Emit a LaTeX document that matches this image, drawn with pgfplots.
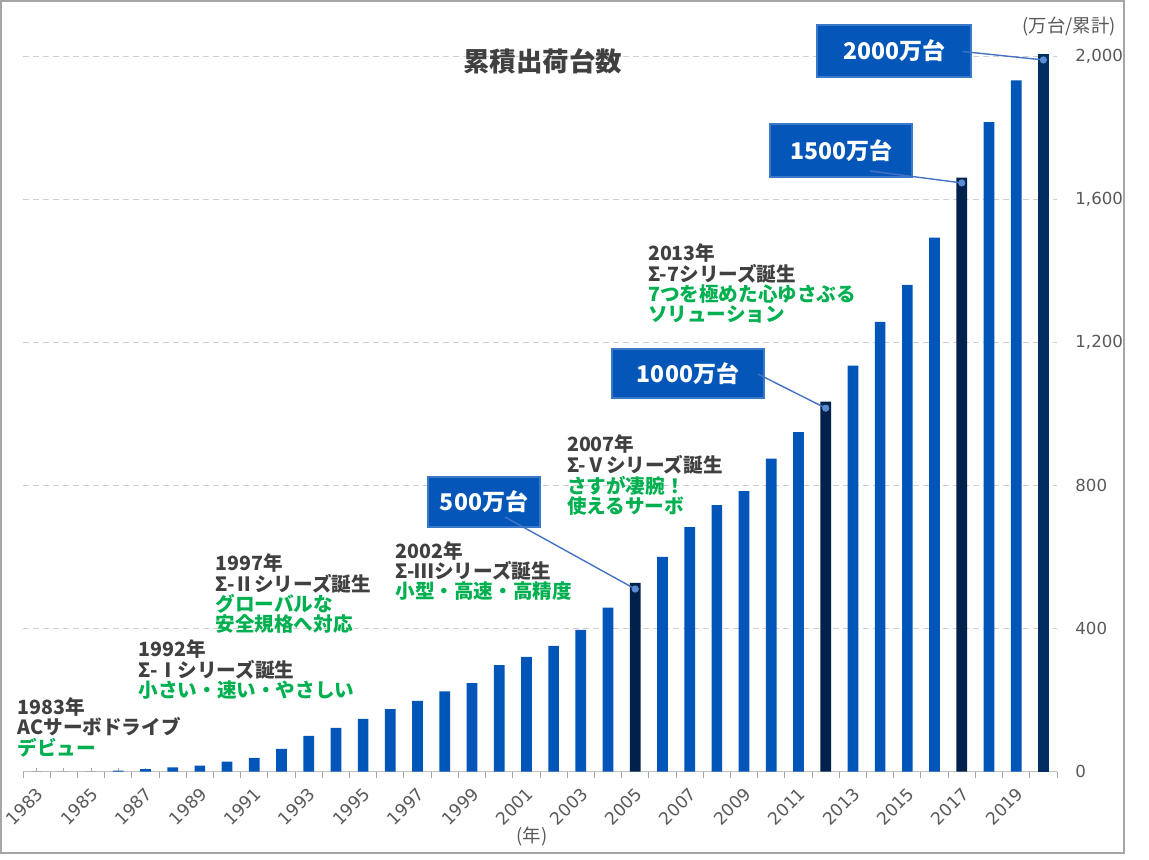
\documentclass[border=0pt]{standalone}
\usepackage{fontspec}
\usepackage{pgfplots}
\usepackage{pgfplotstable}
\pgfplotsset{compat=1.18}
\setmainfont{DejaVu Sans}
\newfontfamily\jp{Noto Sans CJK JP}
\definecolor{barblue}{HTML}{0055B8}
\definecolor{bardark}{HTML}{00214B}
\definecolor{bardarkb}{HTML}{002E60}
\definecolor{boxblue}{HTML}{0457B9}
\definecolor{boxedge}{HTML}{3C78C8}
\definecolor{leader}{HTML}{4472C4}
\definecolor{dotc}{HTML}{5B8BD0}
\definecolor{txtgray}{HTML}{404040}
\definecolor{txtgreen}{HTML}{00B050}
\definecolor{ticklab}{HTML}{595959}
\definecolor{gridc}{HTML}{D0D0D0}
\definecolor{axisc}{HTML}{BFBFBF}
\definecolor{tickc}{HTML}{A6A6A6}
\definecolor{framec}{HTML}{A6A6A6}

% index 0 = 1983 ... 37 = 2020
\pgfplotstableread{
x y
0 0
1 0
2 0
3 3
4 7
5 12
6 17
7 28
8 39
9 64
10 100
11 123
12 148
13 175
14 198
15 225
16 248
17 298
18 321
19 352
20 397
21 459
23 601
24 684
25 746
26 785
27 876
28 950
30 1136
31 1258
32 1362
33 1494
35 1817
36 1934
}\bluedata
\pgfplotstableread{
x y
22 528
29 1035
34 1662
}\darkdata
\pgfplotstableread{
x y
37 2007
}\lastdata
\pgfplotstableread{
x y
22 511
29 1017
34 1647
37 1991
}\dotdata

\begin{document}
\begin{tikzpicture}
\useasboundingbox (0,0) rectangle (574.5pt,-429.5pt);
\draw[framec, line width=0.6pt] (0.5pt,-0.5pt) rectangle (562pt,-426.5pt);
\begin{axis}[
  at={(11.5pt,-385.85pt)}, anchor=south west, scale only axis,
  width=517pt, height=357.5pt,
  xmin=-0.5, xmax=37.5, ymin=0, ymax=2000,
  clip=false,
  axis x line*=bottom, axis y line*=right,
  x axis line style={axisc, -, line width=0.6pt},
  y axis line style={draw=none},
  /pgf/number format/assume math mode=true,
  xtick={0,2,...,36},
  xticklabels={1983,1985,1987,1989,1991,1993,1995,1997,1999,2001,2003,2005,2007,2009,2011,2013,2015,2017,2019},
  minor x tick num=1,
  xtick align=inside,
  major tick length=2pt, minor tick length=2pt,
  xtick style={tickc, line width=0.5pt},
  extra x ticks={-0.5,0.5,...,37.5},
  extra x tick labels={},
  extra x tick style={xtick align=outside, major tick length=3pt, tickc},
  xticklabel style={xshift=-0.5pt, yshift=-7pt, rotate=45, anchor=north east, inner sep=0pt,
     font=\fontsize{8.6}{9}\selectfont, color=ticklab},
  ytick={0,400,...,2000},
  ytick style={draw=none},
  yticklabel style={anchor=west, inner sep=0pt, xshift=9pt,
     font=\fontsize{8.3}{9}\selectfont, color=ticklab,
     /pgf/number format/1000 sep={,}},
  ymajorgrids,
  grid style={gridc, dash pattern=on 3pt off 2pt, line width=0.5pt},
]
\addplot[ybar, bar width=5.35pt, bar shift=0pt, fill=barblue, draw=none] table[x=x,y=y] {\bluedata};
\addplot[ybar, bar width=5.35pt, bar shift=0pt, fill=bardark, draw=none] table[x=x,y=y] {\darkdata};
\addplot[ybar, bar width=5.35pt, bar shift=0pt, fill=bardarkb, draw=none] table[x=x,y=y] {\lastdata};
\begin{scope}[every node/.style={draw=boxedge, fill=boxblue, line width=0.75pt, text=white,
   inner sep=0pt, font=\jp\bfseries\fontsize{11.5}{12}\selectfont}]
\node[minimum width=56pt, minimum height=25pt] at (axis cs:16.442,754.4) {500万台};
\node[minimum width=76pt, minimum height=24.5pt] at (axis cs:23.939,1113.8) {1000万台};
\node[minimum width=71pt, minimum height=26.5pt] at (axis cs:29.562,1737.6) {1500万台};
\node[minimum width=77pt, minimum height=26pt] at (axis cs:31.510,2015.9) {2000万台};
\end{scope}
\draw[leader, line width=0.7pt] (axis cs:17.214,712.4) -- (axis cs:22,511);
\draw[leader, line width=0.7pt] (axis cs:26.512,1112.4) -- (axis cs:29,1017);
\draw[leader, line width=0.7pt] (axis cs:30.628,1680.3) -- (axis cs:34,1647);
\draw[leader, line width=0.7pt] (axis cs:34.045,2014.5) -- (axis cs:37,1991);
\addplot[only marks, mark=*, mark size=1.6pt, mark options={fill=dotc, draw=dotc}] table[x=x,y=y] {\dotdata};
\end{axis}
\begin{scope}[x=0.5pt, y=-0.5pt,
  g/.style={anchor=base west, inner sep=0pt, color=txtgray, font=\jp\bfseries\fontsize{9.8}{11}\selectfont},
  e/.style={anchor=base west, inner sep=0pt, color=txtgreen, font=\jp\bfseries\fontsize{9.8}{11}\selectfont}]
\node[color=txtgray, font=\jp\bfseries\fontsize{13.25}{14}\selectfont] at (542.5,61.5) {累積出荷台数};
\node[color=ticklab, font=\jp\fontsize{9.2}{10}\selectfont] at (1069,27) {(万台/累計)};
\node[color=ticklab, font=\jp\fontsize{9.2}{10}\selectfont] at (532,837) {(年)};
% 1983
\node[g] at (17.3,714.3) {1983年};
\node[g] at (17.3,734.6) {ACサーボドライブ};
\node[e] at (17.3,755) {デビュー};
% 1992
\node[g] at (138.3,656.5) {1992年};
\node[g] at (138.3,677) {Σ-Ⅰシリーズ誕生};
\node[e] at (138.3,697) {小さい・速い・やさしい};
% 1997
\node[g] at (215,570.5) {1997年};
\node[g] at (215,591) {Σ-Ⅱシリーズ誕生};
\node[e] at (215,611) {グローバルな};
\node[e] at (215,631.5) {安全規格へ対応};
% 2002
\node[g] at (395,558) {2002年};
\node[g] at (395,578) {Σ-Ⅲシリーズ誕生};
\node[e] at (395,598) {小型・高速・高精度};
% 2007
\node[g] at (566.7,451.5) {2007年};
\node[g] at (566.7,472.5) {Σ-Ⅴシリーズ誕生};
\node[e] at (566.7,493) {さすが凄腕！};
\node[e] at (566.7,513.5) {使えるサーボ};
% 2013
\node[g] at (647.7,260.5) {2013年};
\node[g] at (647.7,281.5) {Σ-7シリーズ誕生};
\node[e] at (647.7,301.5) {7つを極めた心ゆさぶる};
\node[e] at (647.7,321.5) {ソリューション};
\end{scope}
\end{tikzpicture}
\end{document}
